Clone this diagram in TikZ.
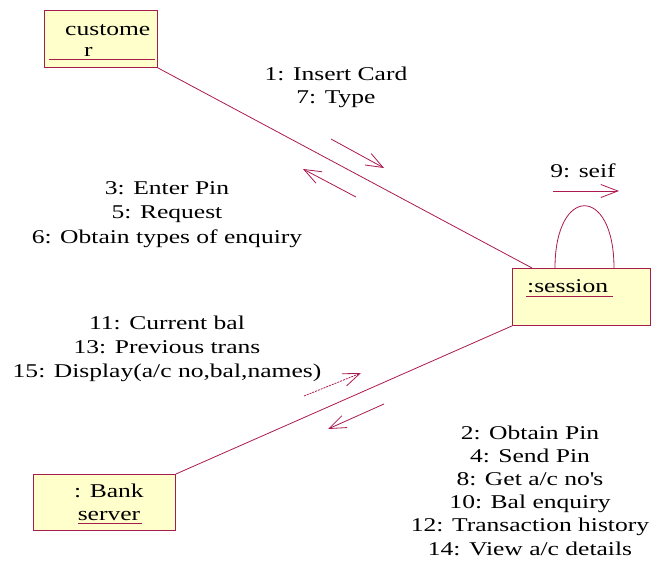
\documentclass[tikz,border=0pt]{standalone}
\usepackage{fontspec}
\setmainfont{Liberation Serif}[FakeStretch=1.31]
\usetikzlibrary{arrows.meta,calc}
\definecolor{boxfill}{RGB}{255,255,204}
\definecolor{boxc}{RGB}{165,30,75}
\definecolor{linec}{RGB}{170,25,80}
\begin{document}
\begin{tikzpicture}[x=1pt,y=-1pt,
  font=\fontsize{19.5}{23}\selectfont,
  objbox/.style={draw=boxc, fill=boxfill, line width=0.9pt, inner sep=0pt, anchor=north west},
  txt/.style={inner sep=0pt, align=center, text=black},
  link/.style={draw=linec, line width=0.8pt},
  msg/.style={draw=linec, line width=0.8pt, -{Straight Barb[length=17pt,width=13pt,line width=0.8pt]}},
  dotmsg/.style={msg, dash pattern=on 2pt off 1pt}]
\useasboundingbox (0,0) rectangle (651,563);

% object boxes
\node[objbox, minimum width=113pt, minimum height=57pt] (customer) at (44,10) {};
\node[objbox, minimum width=138pt, minimum height=57pt] (session) at (512,268) {};
\node[objbox, minimum width=142pt, minimum height=56pt] (bank) at (33,474) {};

% box texts (anchor base = baseline of the last line)
\node[txt, align=left, anchor=base west] (custtext) at (65,56) {custome\\[-2pt]\hspace*{19pt}r};
\draw[boxc, line width=0.8pt] (49,59) -- (155,59);
\node[txt, anchor=base west] (sesstext) at (527,292) {:session};
\draw[boxc, line width=0.8pt] (526,296) -- (613,296);
\node[txt, anchor=base] (banktext) at (109,520) {: Bank\\server};
\draw[boxc, line width=0.8pt] (78,523) -- (142,523);

% links
\draw[link] (customer.south east) -- ($(session.north west)+(20,0)$);
\draw[link] (bank.north east) -- (session.south west);
\draw[link] ($(session.north west)+(43,0)$) .. controls +(0,-83) and +(0,-83) .. ($(session.north west)+(102,0)$);

% message arrows
\coordinate (m1s) at (331,139); \coordinate (m1e) at (384,168);
\coordinate (m3s) at (356,197); \coordinate (m3e) at (303,169);
\coordinate (m11s) at (304,396); \coordinate (m11e) at (361,373);
\coordinate (m2s) at (384,404); \coordinate (m2e) at (328,429);
\coordinate (m9s) at (553,191); \coordinate (m9e) at (619,191);
\draw[msg] (m1s) -- (m1e);
\draw[msg] (m3s) -- (m3e);
\draw[dotmsg] (m11s) -- (m11e);
\draw[msg] (m2s) -- (m2e);
\draw[msg] (m9s) -- (m9e);

% message labels (anchor base = baseline of the last line)
\node[txt, anchor=base] (l1) at (336,103) {1: Insert Card\\7: Type};
\node[txt, anchor=base, font=\fontsize{19.5}{24.5}\selectfont] (l3) at (167,243) {3: Enter Pin\\5: Request\\6: Obtain types of enquiry};
\node[txt, anchor=base, font=\fontsize{19.5}{24}\selectfont] (l11) at (167,377) {11: Current bal\\13: Previous trans\\15: Display(a/c no,bal,names)};
\node[txt, anchor=base, font=\fontsize{19.5}{23.2}\selectfont] (l2) at (530,555) {2: Obtain Pin\\4: Send Pin\\8: Get a/c no\textquotesingle s\\10: Bal enquiry\\12: Transaction history\\14: View a/c details};
\node[txt, anchor=base] (l9) at (583,177) {9: seif};
\end{tikzpicture}
\end{document}
